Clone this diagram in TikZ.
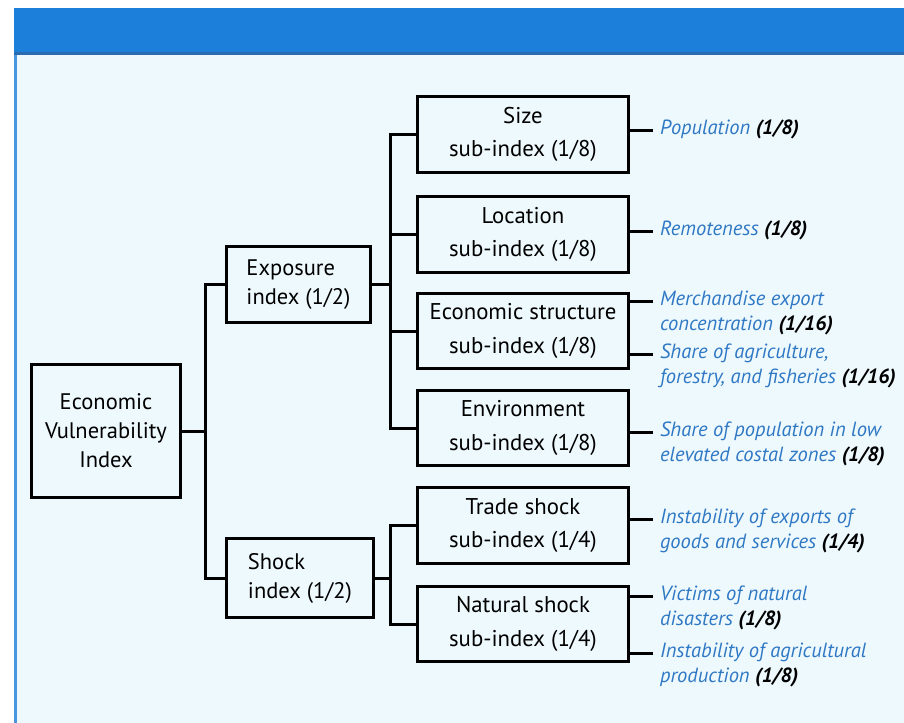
\documentclass[tikz,border=0pt]{standalone}
\usepackage{fontspec}
\setmainfont{PT Sans}
\usetikzlibrary{positioning}
\definecolor{hdrblue}{HTML}{1C7FDA}
\definecolor{hdrdark}{HTML}{2B6CB0}
\definecolor{paleblue}{HTML}{EEF9FD}
\definecolor{lblblue}{HTML}{2F78C4}
\definecolor{edgeblue}{HTML}{4A95E0}
\newcommand{\wt}[1]{{\color{black}\bfseries #1}}
\tikzset{
  idxbox/.style={draw=black, line width=0.075cm, fill=paleblue, minimum width=5.25cm,
    minimum height=1.875cm, inner sep=0pt, align=center,
    font=\fontsize{16.2pt}{24pt}\selectfont},
  topbox/.style={idxbox, font=\fontsize{16pt}{20.6pt}\selectfont},
  lbl/.style={inner xsep=0.17cm, inner ysep=0pt, text height=0.42cm, text depth=0.18cm,
    anchor=west, text=lblblue, font=\fontsize{14.6pt}{17pt}\selectfont\itshape},
  link/.style={line width=0.075cm},
}
\begin{document}
\begin{tikzpicture}[x=0.025cm, y=-0.025cm]
  \useasboundingbox (0,0) rectangle (904,723);
  % background and header bar
  \fill[white] (0,0) rectangle (904,723);
  \fill[paleblue] (14,55) rectangle (904,723);
  \fill[hdrblue] (14,8) rectangle (904,55);
  \fill[hdrdark] (14,52) rectangle (904,55);
  \fill[edgeblue] (14,55) rectangle (17,723);

  % index boxes
  \node[topbox, minimum width=3.7cm, minimum height=3.3cm] (evi) at (106,431) {Economic\\Vulnerability\\Index};
  \node[topbox, minimum width=3.575cm, align=left] (expo) at (298.5,284.5) {Exposure\\index (1/2)};
  \node[topbox, minimum width=3.65cm, minimum height=1.95cm, align=left] (shock) at (300,578) {Shock\\index (1/2)};

  \node[idxbox] (size)  at (523,134.5) {Size\\sub-index (1/8)};
  \node[idxbox] (loc)   at (523,234.5) {Location\\sub-index (1/8)};
  \node[idxbox] (econ)  at (523,331)   {Economic structure\\sub-index (1/8)};
  \node[idxbox] (env)   at (523,428)   {Environment\\sub-index (1/8)};
  \node[idxbox] (trade) at (523,525.5) {Trade shock\\sub-index (1/4)};
  \node[idxbox] (nat)   at (523,624)   {Natural shock\\sub-index (1/4)};

  % trunks
  \coordinate (ltrunk) at (205,0);
  \coordinate (rtrunk) at (390,0);
  \draw[link] (evi.east) -- (ltrunk |- evi.east);
  \draw[link] (expo.west) -| (ltrunk |- shock.west) -- (shock.west);
  \foreach \n in {size,loc,econ,env}
    \draw[link] (expo.east) -| (rtrunk |- \n.west) -- (\n.west);
  \foreach \n in {trade,nat}
    \draw[link] (shock.east) -| (rtrunk |- \n.west) -- (\n.west);

  % components
  \node[lbl] (pop) at (653,130) {Population \wt{(1/8)}};
  \node[lbl] (remote) at (653,231) {Remoteness \wt{(1/8)}};
  \node[lbl] (merch) at (653,301) {Merchandise export};
  \node[lbl, below right=0pt of merch.south west] (merch2) {concentration \wt{(1/16)}};
  \node[lbl] (agri) at (653,354) {Share of agriculture,};
  \node[lbl, below right=0pt of agri.south west] (agri2) {forestry, and fisheries \wt{(1/16)}};
  \node[lbl] (coast) at (653,432) {Share of population in low};
  \node[lbl, below right=0pt of coast.south west] (coast2) {elevated costal zones \wt{(1/8)}};
  \node[lbl] (instx) at (653,519) {Instability of exports of};
  \node[lbl, below right=0pt of instx.south west] (instx2) {goods and services \wt{(1/4)}};
  \node[lbl] (vict) at (653,596) {Victims of natural};
  \node[lbl, below right=0pt of vict.south west] (vict2) {disasters \wt{(1/8)}};
  \node[lbl] (instag) at (653,653) {Instability of agricultural};
  \node[lbl, below right=0pt of instag.south west] (instag2) {production \wt{(1/8)}};

  \draw[link] (size.east |- pop.west) -- (pop.west);
  \draw[link] (loc.east |- remote.west) -- (remote.west);
  \foreach \l in {merch,agri}
    \draw[link] (econ.east |- \l.west) -- (\l.west);
  \draw[link] (env.east |- coast.west) -- (coast.west);
  \draw[link] (trade.east |- instx.west) -- (instx.west);
  \foreach \l in {vict,instag}
    \draw[link] (nat.east |- \l.west) -- (\l.west);
\end{tikzpicture}
\end{document}
